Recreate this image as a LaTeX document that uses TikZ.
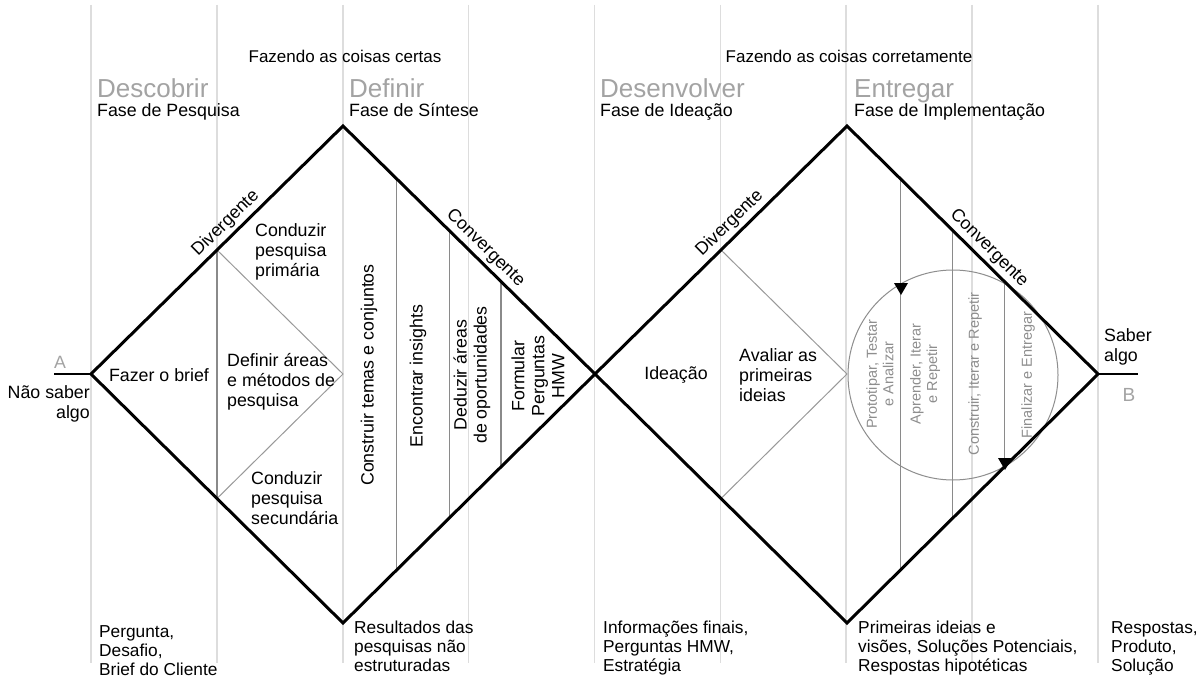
\documentclass[tikz,border=0pt]{standalone}
\usepackage{fontspec}
\setmainfont{Liberation Sans}
\usetikzlibrary{calc}
\definecolor{bgline}{HTML}{DDDDDD}
\definecolor{midline}{HTML}{8A8A8A}
\definecolor{innerline}{HTML}{999999}
\definecolor{titlegray}{HTML}{A3A3A3}
\definecolor{circgray}{HTML}{8E8E8E}
\tikzset{
  bgl/.style={draw=bgline, line width=1.6pt},
  midl/.style={draw=midline, line width=1.1pt},
  innl/.style={draw=innerline, line width=1pt},
  edgeline/.style={draw=black, line width=3pt, line join=miter},
  endline/.style={draw=black, line width=2pt},
  txt/.style={font=\fontsize{17.8}{20}\selectfont, inner sep=0pt, align=left},
  htxt/.style={font=\fontsize{17}{20}\selectfont, inner sep=0pt},
  btxt/.style={font=\fontsize{17.3}{19.3}\selectfont, inner sep=0pt, align=left},
  ttl/.style={font=\fontsize{26}{30}\selectfont, text=titlegray, inner sep=0pt},
  lab/.style={font=\fontsize{17.8}{20}\selectfont, inner sep=0pt},
  small/.style={font=\fontsize{14.5}{16.5}\selectfont, text=circgray, inner sep=0pt, align=center},
  tri/.style={fill=black}
}
\begin{document}
\begin{tikzpicture}[x=1pt,y=-1pt]
\useasboundingbox[fill=white] (0,0) rectangle (1199,677);
% key points
\coordinate (L) at (91,374);
\coordinate (T1) at (343,126);
\coordinate (B1) at (343,623);
\coordinate (M) at (595,374);
\coordinate (T2) at (847,126);
\coordinate (B2) at (847,623);
\coordinate (R) at (1098,374);
\coordinate (C1) at (343,374);
\coordinate (C2) at (847,374);
\coordinate (Aend) at (54,374);
\coordinate (Bend) at (1138,374);
% background grid lines
\foreach \i in {0,...,8}
  \draw[bgl] ({91+125.875*\i},5) -- ({91+125.875*\i},663);
% inner lines, diamond 1
\draw[midl] ($(L)!0.5!(T1)$) -- ($(L)!0.5!(B1)$);
\draw[innl] ($(L)!0.5!(T1)$) -- (C1) -- ($(L)!0.5!(B1)$);
\foreach \f in {0.214,0.421,0.627}
  \draw[midl] ($(T1)!\f!(M)$) -- ($(B1)!\f!(M)$);
% inner lines, diamond 2
\draw[innl] ($(M)!0.5!(T2)$) -- (C2) -- ($(M)!0.5!(B2)$);
\foreach \f in {0.214,0.421,0.627}
  \draw[midl] ($(T2)!\f!(R)$) -- ($(B2)!\f!(R)$);
% iteration circle
\node[circle, draw=circgray, line width=1pt, minimum size=210pt, inner sep=0pt] (cyc) at (953,375) {};
\fill[tri] (894,283) -- (908,283) -- (901,295) -- cycle;
\fill[tri] (998,458) -- (1012,458) -- (1005,470) -- cycle;
% end lines
\draw[endline] (Aend) -- (L);
\draw[endline] (R) -- (Bend);
% diamonds
\draw[edgeline] (L) -- node[lab, pos=0.57, sloped, above=3pt] (dv1) {Divergente} (T1)
  -- node[lab, pos=0.53, sloped, above=3pt] (cv1) {Convergente} (M) -- (B1) -- cycle;
\draw[edgeline] (M) -- node[lab, pos=0.57, sloped, above=3pt] (dv2) {Divergente} (T2)
  -- node[lab, pos=0.53, sloped, above=3pt] (cv2) {Convergente} (R) -- (B2) -- cycle;
% header texts
\node[htxt, anchor=base] (top1) at (345,63) {Fazendo as coisas certas};
\node[htxt, anchor=base] (top2) at (849,63) {Fazendo as coisas corretamente};
\node[ttl, anchor=base west] (t1) at (97,97) {Descobrir};
\node[txt, anchor=base west] (f1) at (97,116) {Fase de Pesquisa};
\node[ttl, anchor=base west] (t2) at (349,97) {Definir};
\node[txt, anchor=base west] (f2) at (349,116) {Fase de Síntese};
\node[ttl, anchor=base west] (t3) at (600,97) {Desenvolver};
\node[txt, anchor=base west] (f3) at (600,116) {Fase de Ideação};
\node[ttl, anchor=base west] (t4) at (854,97) {Entregar};
\node[txt, anchor=base west] (f4) at (854,116) {Fase de Implementação};
% A / B
\node[lab, text=titlegray, anchor=base] (A) at (60,368) {A};
\node[lab, text=titlegray, font=\fontsize{19}{20}\selectfont, anchor=base] (B) at (1129,401) {B};
\node[txt, align=right, anchor=base east] (ns) at (90,418) {Não saber\\algo};
\node[txt, anchor=base west] (sa) at (1104,361) {Saber\\algo};
% diamond 1 texts
\node[txt, anchor=base west] (cp) at (255,276) {Conduzir\\pesquisa\\primária};
\node[txt, anchor=base] (fb) at (159,381) {Fazer o brief};
\node[txt, anchor=base west] (da) at (227,406) {Definir áreas\\e métodos de\\pesquisa};
\node[txt, anchor=base west] (cs) at (251,524) {Conduzir\\pesquisa\\secundária};
\node[txt, rotate=90] (ct) at (369,375) {Construir temas e conjuntos};
\node[txt, rotate=90] (ei) at (418,376) {Encontrar insights};
\node[txt, rotate=90, align=center] (dd) at (472,375) {Deduzir áreas\\de oportunidades};
\node[txt, rotate=90, align=center] (fp) at (538,376) {Formular\\Perguntas\\HMW};
% diamond 2 texts
\node[txt, anchor=base] (id) at (676,379) {Ideação};
\node[txt, anchor=base west] (av) at (739,401) {Avaliar as\\primeiras\\ideias};
\node[small, rotate=90] (pt) at (880,374) {Prototipar, Testar\\e Analizar};
\node[small, rotate=90] (ai) at (925,374) {Aprender, Iterar\\e Repetir};
\node[small, rotate=90] (ci) at (975,374) {Construir, Iterar e Repetir};
\node[small, rotate=90] (fe) at (1028,375) {Finalizar e Entregar};
% bottom texts
\node[btxt, anchor=base west] (bq) at (99,675.6) {Pergunta,\\Desafio,\\Brief do Cliente};
\node[btxt, anchor=base west] (br) at (354,671.6) {Resultados das\\pesquisas não\\estruturadas};
\node[btxt, anchor=base west] (bi) at (603,671.6) {Informações finais,\\Perguntas HMW,\\Estratégia};
\node[btxt, anchor=base west] (bp) at (858,671.6) {Primeiras ideias e\\visões, Soluções Potenciais,\\Respostas hipotéticas};
\node[btxt, anchor=base west] (bs) at (1111,671.6) {Respostas,\\Produto,\\Solução};
\end{tikzpicture}
\end{document}
